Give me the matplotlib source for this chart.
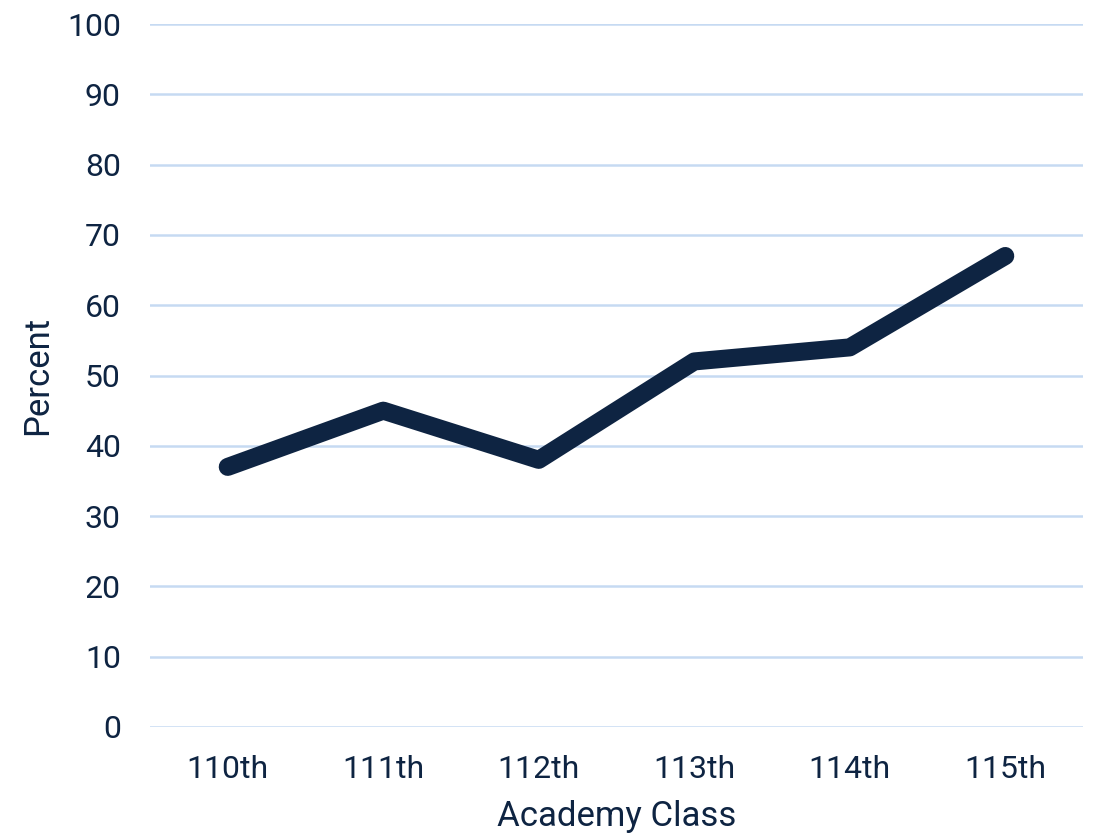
import matplotlib.pyplot as plt

plt.rcParams['font.family'] = ['Roboto', 'DejaVu Sans']

classes = ['110th', '111th', '112th', '113th', '114th', '115th']
percent = [37, 45, 38, 52, 54, 67]
yticks = [0, 10, 20, 30, 40, 50, 60, 70, 80, 90, 100]

navy = '#0e2442'
grid_col = '#c6daf2'

fig = plt.figure(figsize=(10.94, 8.34), dpi=100)
ax = fig.add_axes([150 / 1094, 107 / 834, 933 / 1094, 703 / 834])

x = list(range(len(classes)))
ax.plot(x, percent, color=navy, linewidth=13, solid_capstyle='round',
        solid_joinstyle='round', zorder=3)

ax.set_xlim(-0.5, len(classes) - 0.5)
ax.set_ylim(0, 100)
ax.set_yticks(yticks)
ax.set_xticks(x)
ax.set_xticklabels(classes)
ax.grid(axis='y', color=grid_col, linewidth=1.8)
ax.set_axisbelow(True)
for s in ax.spines.values():
    s.set_visible(False)
ax.tick_params(length=0, labelsize=23, labelcolor=navy)
ax.tick_params(axis='y', pad=21)
ax.tick_params(axis='x', pad=20)

ax.set_xlabel('Academy Class', fontsize=25, color=navy, labelpad=12)
ax.set_ylabel('Percent', fontsize=25, color=navy, labelpad=9)

fig.savefig('out.png', dpi=100)
